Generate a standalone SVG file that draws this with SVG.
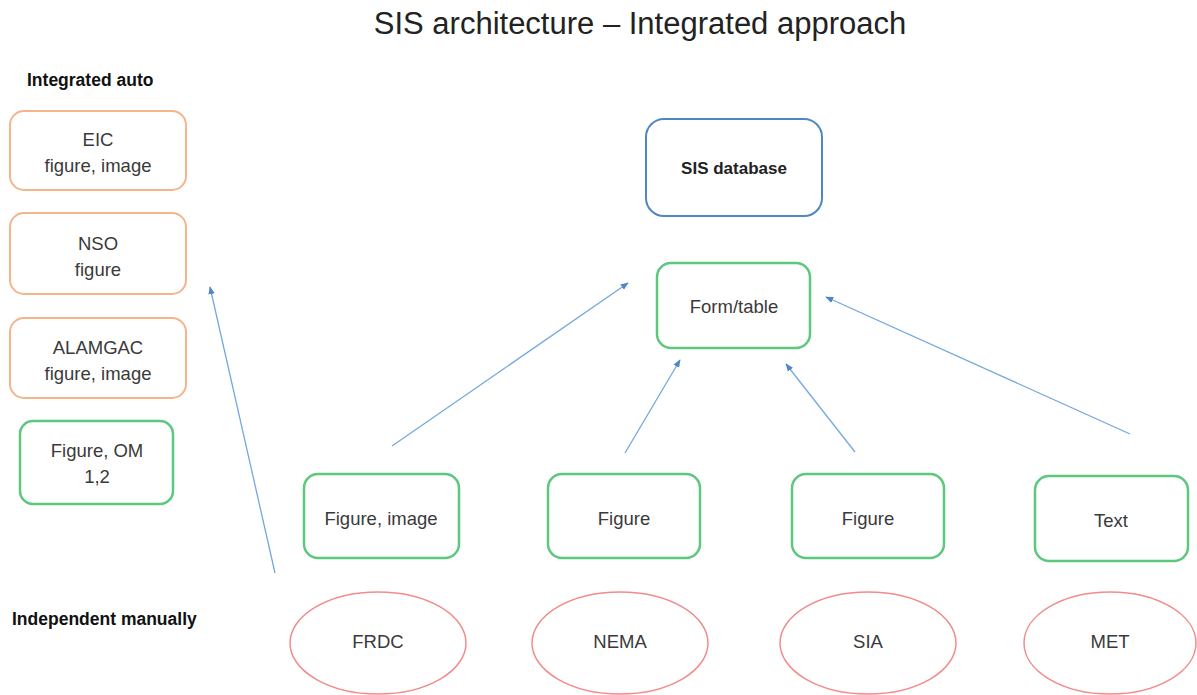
<svg xmlns="http://www.w3.org/2000/svg" width="1197" height="695" viewBox="0 0 1197 695">
<style>
text{font-family:"Liberation Sans",Arial,sans-serif;fill:#3a3a3a;text-anchor:middle}
.t{font-size:18.5px}
.lbl{font-size:17.5px;font-weight:bold;fill:#111;text-anchor:start}
.org{fill:#fff;stroke:#F5B48C;stroke-width:2}
.grn{fill:#fff;stroke:#5CC87E;stroke-width:2.5}
.blu{fill:#fff;stroke:#4F86C6;stroke-width:2}
.red{fill:#fff;stroke:#F28C8C;stroke-width:1.5}
.con{stroke:#74A8DD;stroke-width:1.3;fill:none;marker-end:url(#ah)}
</style>
<defs>
<marker id="ah" viewBox="0 0 10 10" refX="9" refY="5" markerWidth="8" markerHeight="8" orient="auto" markerUnits="userSpaceOnUse">
<path d="M0,1 L10,5 L0,9 z" fill="#4F86C6"/>
</marker>
</defs>
<rect width="1197" height="695" fill="#fff"/>
<text x="640" y="34" style="font-size:31px;fill:#222">SIS architecture – Integrated approach</text>
<text class="lbl" x="27" y="86">Integrated auto</text>
<text class="lbl" x="12" y="625">Independent manually</text>

<g id="connectors">
<line class="con" x1="392" y1="446" x2="628" y2="283"/>
<line class="con" x1="625" y1="453" x2="680" y2="360"/>
<line class="con" x1="855" y1="452" x2="786" y2="364"/>
<line class="con" x1="1130" y1="434" x2="826" y2="297"/>
<line class="con" x1="275" y1="573" x2="210" y2="287"/>
</g>

<g id="eic"><rect class="org" x="10" y="111" width="176" height="79" rx="14"/><text class="t" x="98" y="146">EIC</text><text class="t" x="98" y="172">figure, image</text></g>
<g id="nso"><rect class="org" x="10" y="213" width="176" height="81" rx="14"/><text class="t" x="98" y="250">NSO</text><text class="t" x="98" y="276">figure</text></g>
<g id="alamgac"><rect class="org" x="10" y="318" width="176" height="80" rx="14"/><text class="t" x="98" y="354">ALAMGAC</text><text class="t" x="98" y="380">figure, image</text></g>
<g id="figom"><rect class="grn" x="20" y="421" width="153" height="83" rx="13"/><text class="t" x="97" y="457">Figure, OM</text><text class="t" x="97" y="483">1,2</text></g>

<g id="sisdb"><rect class="blu" x="646" y="119" width="176" height="97" rx="18"/><text x="734" y="174" style="font-size:17px;font-weight:bold;fill:#222">SIS database</text></g>
<g id="formtable"><rect class="grn" x="657" y="263" width="153" height="85" rx="14"/><text class="t" x="734" y="313">Form/table</text></g>

<g id="figimg"><rect class="grn" x="304" y="474" width="155" height="84" rx="14"/><text class="t" x="381" y="525">Figure, image</text></g>
<g id="fig1"><rect class="grn" x="548" y="474" width="152" height="84" rx="14"/><text class="t" x="624" y="525">Figure</text></g>
<g id="fig2"><rect class="grn" x="792" y="474" width="152" height="84" rx="14"/><text class="t" x="868" y="525">Figure</text></g>
<g id="text"><rect class="grn" x="1035" y="476" width="153" height="85" rx="14"/><text class="t" x="1111" y="527">Text</text></g>

<g id="frdc"><ellipse class="red" cx="378" cy="643" rx="88" ry="51"/><text class="t" x="378" y="648">FRDC</text></g>
<g id="nema"><ellipse class="red" cx="620" cy="643" rx="88" ry="51"/><text class="t" x="620" y="648">NEMA</text></g>
<g id="sia"><ellipse class="red" cx="868" cy="643" rx="88" ry="51"/><text class="t" x="868" y="648">SIA</text></g>
<g id="met"><ellipse class="red" cx="1110" cy="643" rx="86" ry="51"/><text class="t" x="1110" y="648">MET</text></g>
</svg>
